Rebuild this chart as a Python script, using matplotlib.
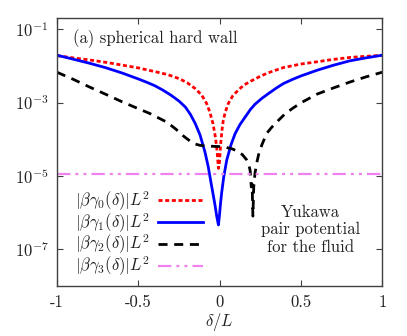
import numpy as np
import matplotlib
matplotlib.use('Agg')
import matplotlib.pyplot as plt

plt.rcParams['mathtext.fontset'] = 'cm'
plt.rcParams['font.family'] = ['cmr10', 'DejaVu Serif']
plt.rcParams['axes.formatter.use_mathtext'] = True
plt.rcParams['lines.scale_dashes'] = False

# ─── values ─────────────────────────────────────────────────────────────────
x_g0 = [-1.0, -0.9, -0.8, -0.7, -0.6, -0.5, -0.4, -0.32, -0.25, -0.2, -0.15,
        -0.11, -0.08, -0.06, -0.04, -0.025, -0.015, -0.007, 0.0, 0.007, 0.015,
        0.023, 0.035, 0.054, 0.08, 0.116, 0.15, 0.2, 0.25, 0.3, 0.393, 0.5,
        0.598, 0.7, 0.803, 0.9, 1.0]
g0 = [0.019, 0.0165, 0.0145, 0.0125, 0.0105, 8.8e-3, 7.0e-3, 5.8e-3, 4.5e-3,
      3.5e-3, 2.4e-3, 1.6e-3, 9.5e-4, 5.5e-4, 2.6e-4, 1.1e-4, 4.5e-5, 1.6e-5,
      2.5e-5, 7.7e-5, 1.8e-4, 3.3e-4, 5.5e-4, 9.5e-4, 1.5e-3, 2.2e-3, 3.0e-3,
      4.0e-3, 5.2e-3, 6.5e-3, 9.0e-3, 0.0112, 0.0129, 0.015, 0.017, 0.0182, 0.0195]

x_g1 = [-1.0, -0.9, -0.8, -0.7, -0.6, -0.5, -0.45, -0.4, -0.35, -0.3, -0.25,
        -0.21, -0.18, -0.15, -0.12, -0.09, -0.07, -0.048, -0.03, -0.017, -0.007,
        0.0, 0.006, 0.013, 0.025, 0.044, 0.07, 0.095, 0.125, 0.157, 0.19, 0.218,
        0.26, 0.3, 0.35, 0.393, 0.45, 0.5, 0.6, 0.7, 0.8, 0.9, 1.0]
g1 = [0.0195, 0.0152, 0.0118, 8.9e-3, 6.4e-3, 4.4e-3, 3.6e-3, 2.9e-3, 2.2e-3,
      1.6e-3, 1.1e-3, 7.5e-4, 4.8e-4, 2.7e-4, 1.3e-4, 4.5e-5, 1.8e-5, 5e-6,
      1.8e-6, 7.7e-7, 4.6e-7, 9e-7, 1.8e-6, 3.5e-6, 9e-6, 2.7e-5, 7e-5, 1.4e-4,
      2.5e-4, 4e-4, 6.5e-4, 9e-4, 1.3e-3, 1.75e-3, 2.5e-3, 3.3e-3, 4.3e-3, 5.3e-3,
      7.6e-3, 0.0104, 0.0137, 0.0165, 0.0195]

x_g2 = [-1.0, -0.9, -0.8, -0.69, -0.6, -0.5, -0.428, -0.37, -0.323, -0.27, -0.22,
        -0.18, -0.15, -0.12, -0.08, -0.04, 0.0, 0.04, 0.08, 0.11, 0.14, 0.165,
        0.18, 0.188, 0.195, 0.2, 0.205, 0.21, 0.218, 0.228, 0.24, 0.26, 0.29,
        0.32, 0.36, 0.4, 0.45, 0.5, 0.6, 0.7, 0.8, 0.9, 1.0]
g2 = [6.7e-3, 4.3e-3, 2.65e-3, 1.6e-3, 1.05e-3, 6.8e-4, 5.0e-4, 3.7e-4, 2.9e-4,
      1.9e-4, 1.2e-4, 8.8e-5, 7.4e-5, 6.8e-5, 6.5e-5, 6.4e-5, 6.3e-5, 6.0e-5,
      5.4e-5, 4.7e-5, 3.8e-5, 2.8e-5, 2e-5, 1.4e-5, 5e-6, 6e-6, 8e-7, 5e-6,
      1.2e-5, 2.2e-5, 3.8e-5, 7e-5, 1.45e-4, 2.1e-4, 3.2e-4, 4.8e-4, 7e-4,
      9.8e-4, 1.7e-3, 2.5e-3, 3.6e-3, 5e-3, 6.7e-3]

x_g3 = [-1.0, 1.0]
g3 = [1.1e-5, 1.1e-5]

labels = [r'$|\beta\gamma_0(\delta)|L^2$', r'$|\beta\gamma_1(\delta)|L^2$',
          r'$|\beta\gamma_2(\delta)|L^2$', r'$|\beta\gamma_3(\delta)|L^2$']
xticks = [-1, -0.5, 0, 0.5, 1]
xticklabels = ['-1', '-0.5', '0', '0.5', '1']
yticks = [1e-7, 1e-5, 1e-3, 1e-1]
yticklabels = [r'$10^{-7}$', r'$10^{-5}$', r'$10^{-3}$', r'$10^{-1}$']

fig = plt.figure(figsize=(4.07, 3.36), dpi=100)
ax = fig.add_axes([0.140, 0.149, 0.799, 0.797])

ax.plot(x_g0, g0, color='#ff0000', lw=2.0, dashes=(2.9, 1.9), label=labels[0])
ax.plot(x_g1, g1, color='#0000ff', lw=2.0, label=labels[1])
ax.plot(x_g2, g2, color='black', lw=2.0, dashes=(6.5, 4.8), label=labels[2])
ax.plot(x_g3, g3, color='#ee82ee', lw=1.6,
        dashes=(9.6, 3.6, 2.2, 3.6, 2.2, 3.6), label=labels[3])

ax.set_yscale('log')
ax.set_xlim(-1, 1)
ax.set_ylim(1e-8, 2e-1)
ax.set_xticks(xticks)
ax.set_xticklabels(xticklabels, fontsize=12)
ax.set_yticks(yticks)
ax.set_yticklabels(yticklabels, fontsize=12)
ax.minorticks_off()
ax.tick_params(direction='in', length=4, width=0.8, top=True, right=True,
               color='#404040', labelcolor='#222222')
ax.tick_params(axis='x', pad=6)
ax.tick_params(axis='y', pad=6)
for s in ax.spines.values():
    s.set_color('#404040')
    s.set_linewidth(1.0)

ax.set_xlabel(r'$\delta/L$', fontsize=12, color='#222222', labelpad=1)

ax.text(0.049, 0.925, '(a) spherical hard wall', transform=ax.transAxes,
        fontsize=12, va='center', ha='left', color='#222222')
ax.text(0.78, 0.21, 'Yukawa\npair potential\nfor the fluid', transform=ax.transAxes,
        fontsize=12, va='center', ha='center', color='#222222', linespacing=1.2)

ax.legend(loc='lower left', bbox_to_anchor=(0.021, -0.015), frameon=False,
          markerfirst=False, fontsize=12, handlelength=2.7, handletextpad=0.45,
          labelspacing=-0.1, borderpad=0.2, labelcolor='#222222')

plt.savefig('out.png', dpi=100)
